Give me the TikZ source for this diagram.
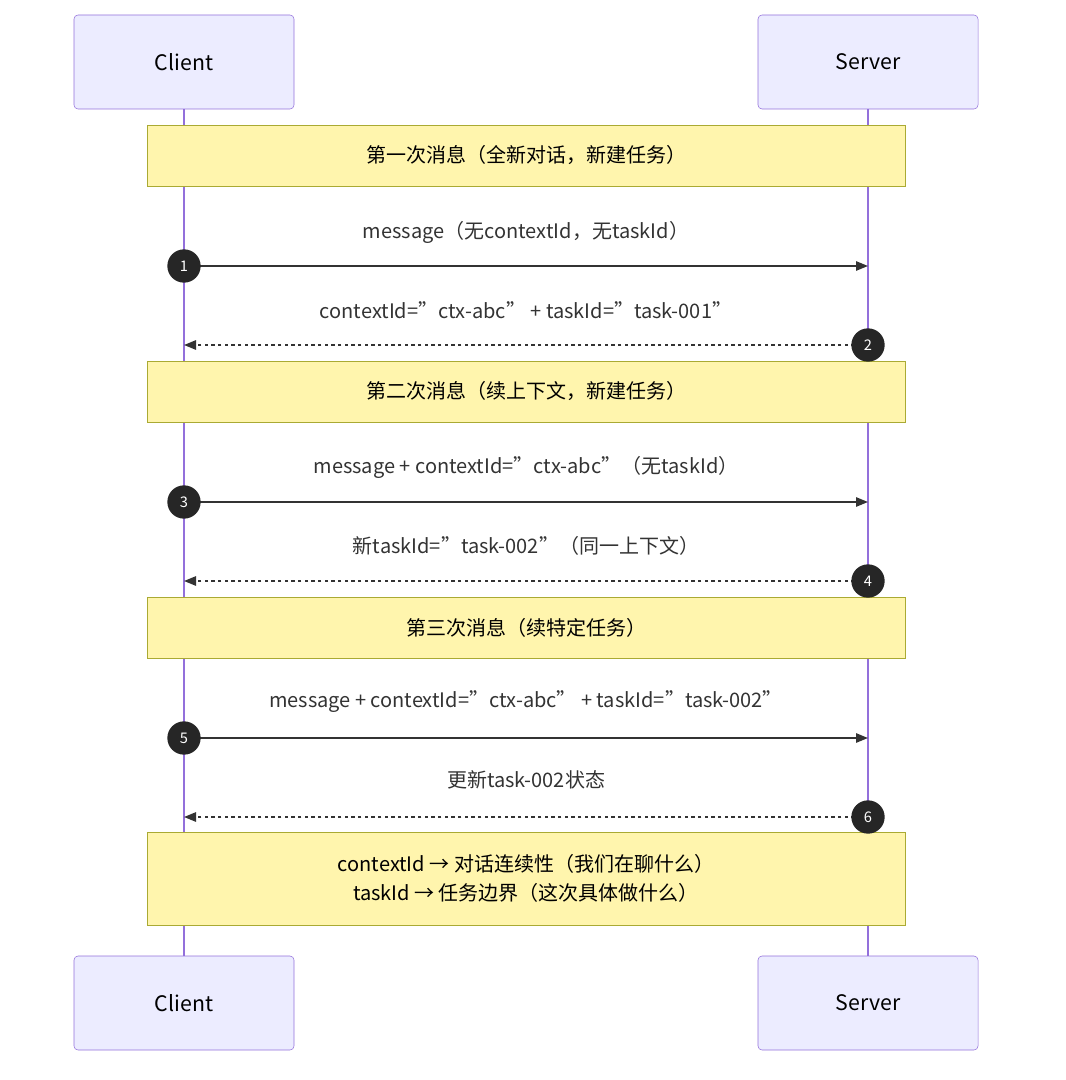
\documentclass[tikz,border=0pt]{standalone}
\usepackage{fontspec}
\setmainfont{Noto Sans CJK SC}
\usetikzlibrary{arrows.meta}
\definecolor{actfill}{HTML}{ECECFF}
\definecolor{actdraw}{HTML}{9370DB}
\definecolor{notefill}{HTML}{FFF5AD}
\definecolor{notedraw}{HTML}{AAAA33}
\definecolor{txt}{HTML}{333333}
\begin{document}
\begin{tikzpicture}[x=0.75pt,y=-0.75pt,
  actor/.style={draw=actdraw,fill=actfill,rounded corners=3pt,minimum width=165pt,minimum height=70.5pt,inner sep=0,font=\fontsize{16}{19}\selectfont,text=black},
  note/.style={draw=notedraw,fill=notefill,minimum width=568.5pt,inner sep=0,font=\fontsize{15}{22}\selectfont,text=black,align=center},
  lbl/.style={font=\fontsize{15}{18}\selectfont,text=txt},
  num/.style={circle,fill=black!85,minimum size=25pt,inner sep=0,text=white,font=\fontsize{11}{12}\selectfont},
  sol/.style={draw=txt,line width=1.3pt,-{Triangle[length=9pt,width=7pt]}},
  dsh/.style={draw=txt,line width=1.3pt,dash pattern=on 2.5pt off 2.5pt,-{Triangle[length=9pt,width=7pt]}}]
\useasboundingbox (0,0) rectangle (1065,1080);
\node[actor] (c1) at (184,62) {Client};
\node[actor] (s1) at (868,62) {Server};
\node[actor] (c2) at (184,1003) {Client};
\node[actor] (s2) at (868,1003) {Server};
\draw[actdraw,line width=1.3pt] (c1.south) -- (c2.north);
\draw[actdraw,line width=1.3pt] (s1.south) -- (s2.north);
\node[note,minimum height=46pt] (n1) at (526,155.5) {第一次消息（全新对话，新建任务）};
\node[note,minimum height=46pt] (n2) at (526,391.5) {第二次消息（续上下文，新建任务）};
\node[note,minimum height=46pt] (n3) at (526,627.5) {第三次消息（续特定任务）};
\node[note,minimum height=70pt] (n4) at (526,878.5) {contextId → 对话连续性（我们在聊什么）\\taskId → 任务边界（这次具体做什么）};
\coordinate (cl1) at (184,266); \coordinate (sr1) at (868,266);
\coordinate (cl2) at (184,345); \coordinate (sr2) at (868,345);
\coordinate (cl3) at (184,502); \coordinate (sr3) at (868,502);
\coordinate (cl4) at (184,581); \coordinate (sr4) at (868,581);
\coordinate (cl5) at (184,738); \coordinate (sr5) at (868,738);
\coordinate (cl6) at (184,817); \coordinate (sr6) at (868,817);
\draw[sol] (cl1) -- (sr1);
\draw[dsh] (sr2) -- (cl2);
\draw[sol] (cl3) -- (sr3);
\draw[dsh] (sr4) -- (cl4);
\draw[sol] (cl5) -- (sr5);
\draw[dsh] (sr6) -- (cl6);
\node[num] (k1) at (cl1) {1};
\node[num] (k2) at (sr2) {2};
\node[num] (k3) at (cl3) {3};
\node[num] (k4) at (sr4) {4};
\node[num] (k5) at (cl5) {5};
\node[num] (k6) at (sr6) {6};
\node[lbl] (m1) at (526,232) {message（无contextId，无taskId）};
\node[lbl] (m2) at (526,310) {contextId="ctx-abc" + taskId="task-001"};
\node[lbl] (m3) at (526,467) {message + contextId="ctx-abc"（无taskId）};
\node[lbl] (m4) at (526,546) {新taskId="task-002"（同一上下文）};
\node[lbl] (m5) at (526,702) {message + contextId="ctx-abc" + taskId="task-002"};
\node[lbl] (m6) at (526,780) {更新task-002状态};
\end{tikzpicture}
\end{document}
